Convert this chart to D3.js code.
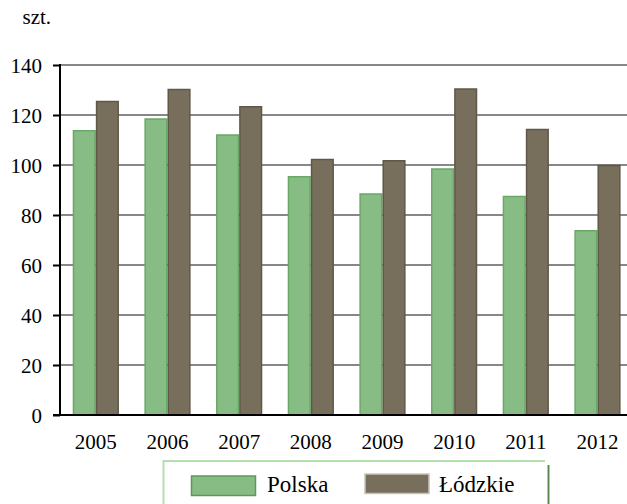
<!DOCTYPE html>
<html><head><meta charset="utf-8">
<script src="https://cdn.jsdelivr.net/npm/d3@7"></script>
<style>body{margin:0;background:#fff}svg{display:block}text{font-family:"Liberation Serif","Times New Roman",serif;fill:#000}</style>
</head><body><svg id="c" width="627" height="504"></svg>
<script>
const years = ["2005","2006","2007","2008","2009","2010","2011","2012"];
const seriesNames = ["Polska","Łódzkie"];
const polska = [114, 118.7, 112.3, 95.6, 88.7, 98.7, 87.7, 74];
const lodzkie = [125.7, 130.5, 123.6, 102.5, 102, 130.7, 114.5, 100.1];
const yTicks = [0,20,40,60,80,100,120,140];
const unitLabel = "szt.";
const fills = ["#87bc84","#776f5c"];
const strokes = ["#6aa866","#5f5849"];

const svg = d3.select("#c");
const x = d3.scaleBand().domain(years).range([60,633.3]).paddingInner(0.355).paddingOuter(0.1775);
const xs = d3.scaleBand().domain(seriesNames).range([0,x.bandwidth()]);
const y = d3.scaleLinear().domain([0,140]).range([415,65]);

// gridlines
svg.append("g").selectAll("line").data(yTicks.filter(d=>d>0)).join("line")
  .attr("x1",60).attr("x2",627).attr("y1",d=>y(d)).attr("y2",d=>y(d))
  .attr("stroke","#878787").attr("stroke-width",2);

// bars
const data = years.map((yr,i)=>({yr, vals:[polska[i], lodzkie[i]]}));
const g = svg.append("g").selectAll("g").data(data).join("g")
  .attr("transform",d=>`translate(${x(d.yr)},0)`);
g.selectAll("rect").data(d=>d.vals.map((v,j)=>({v,j}))).join("rect")
  .attr("x",d=>xs(seriesNames[d.j])+0.75).attr("width",xs.bandwidth()-1.5)
  .attr("y",d=>y(d.v)+0.75).attr("height",d=>y(0)-y(d.v)-0.75)
  .attr("fill",d=>fills[d.j]).attr("stroke",d=>strokes[d.j]).attr("stroke-width",1.5);

// y axis
const yAxis = d3.axisLeft(y).tickValues(yTicks).tickSize(7).tickPadding(11).tickFormat(d3.format("d"));
const ya = svg.append("g").attr("transform","translate(60,0)").call(yAxis);
ya.select(".domain").remove();
ya.selectAll(".tick line").attr("stroke","#000").attr("stroke-width",2);
ya.selectAll(".tick text").attr("font-size",21).attr("dy","0.36em").style("font-family","'Liberation Serif',serif");
svg.append("line").attr("x1",60).attr("x2",60).attr("y1",y(140)-1).attr("y2",y(0)).attr("stroke","#000").attr("stroke-width",2);

// x axis
const xAxis = d3.axisBottom(x).tickSize(0).tickPadding(19);
const xa = svg.append("g").attr("transform","translate(0,415)").call(xAxis);
xa.select(".domain").remove();
xa.selectAll(".tick text").attr("font-size",21).style("font-family","'Liberation Serif',serif");
svg.append("line").attr("x1",53).attr("x2",627).attr("y1",415).attr("y2",415).attr("stroke","#000").attr("stroke-width",2);

// unit label
svg.append("text").attr("x",22.5).attr("y",24).attr("font-size",21).text(unitLabel);

// legend
const lg = svg.append("g");
lg.append("path").attr("d","M163.5,510 V461 H545").attr("fill","none").attr("stroke","#b3e0ad").attr("stroke-width",2);
lg.append("line").attr("x1",548.5).attr("x2",548.5).attr("y1",465).attr("y2",510).attr("stroke","#5a8a52").attr("stroke-width",2);
const legItems = [{x:191.5,y:476,tx:267},{x:365,y:474,tx:439}];
seriesNames.forEach((n,i)=>{
  const it = legItems[i];
  lg.append("rect").attr("x",it.x).attr("y",it.y).attr("width",64).attr("height",19.5)
    .attr("fill",fills[i]).attr("stroke",i===0?"#5a9a57":"#c9c5bb").attr("stroke-width",1.5);
  lg.append("text").attr("x",it.tx).attr("y",492).attr("font-size",23).text(n);
});
</script></body></html>
